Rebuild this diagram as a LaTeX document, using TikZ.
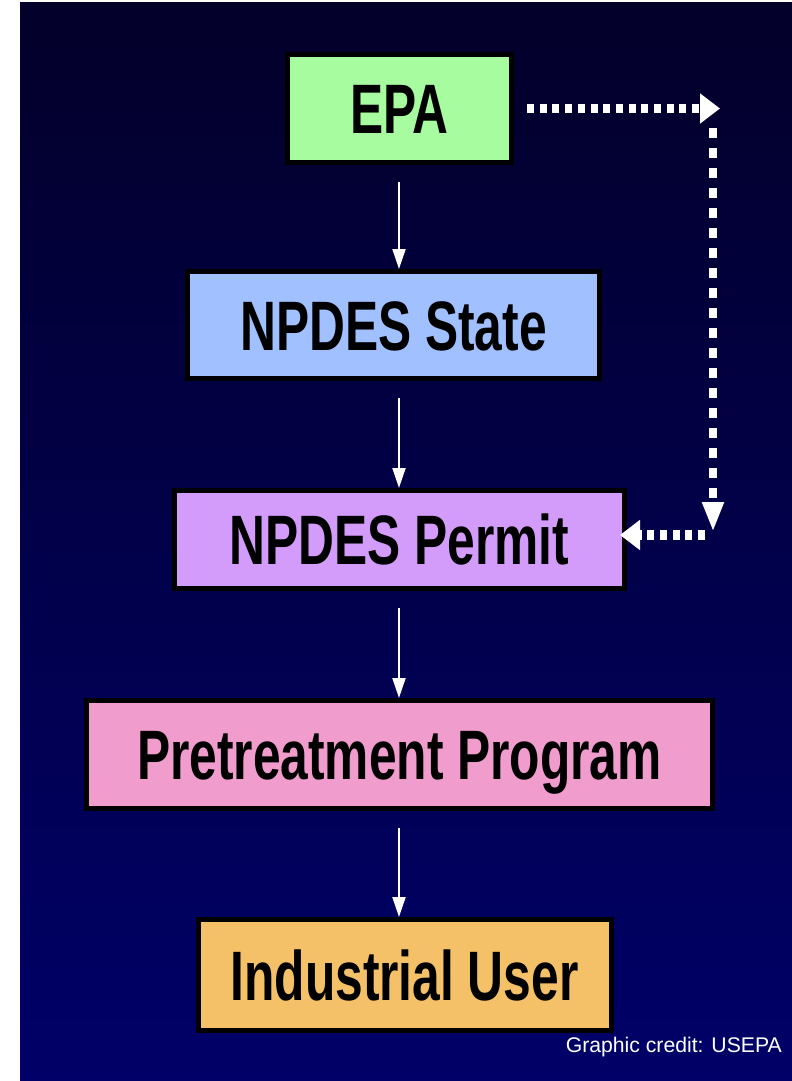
\documentclass[tikz,border=0pt]{standalone}
\usepackage{fontspec}
\setmainfont{Liberation Sans}
\newfontfamily\condfont[FakeStretch=0.71]{Liberation Sans}
\usetikzlibrary{arrows.meta,calc}
\definecolor{navytop}{HTML}{03002A}
\definecolor{navymid}{HTML}{00005A}
\definecolor{navybot}{HTML}{000068}
\definecolor{epagreen}{HTML}{A8FCA0}
\definecolor{stateblue}{HTML}{A0C0FF}
\definecolor{permitviolet}{HTML}{D49CFA}
\definecolor{pretreatpink}{HTML}{F09CCC}
\definecolor{userorange}{HTML}{F4C068}
\tikzset{
  box/.style={draw=black, line width=5pt, inner sep=0pt, outer sep=2.5pt,
    text height=50.1pt, text depth=0pt,
    font=\condfont\bfseries\fontsize{70}{70}\selectfont, text=black},
  flow/.style={draw=white, line width=2pt, shorten <=17pt,
    -{Triangle[length=20pt,width=13pt]}},
  dotsh/.style={draw=white, line width=9.5pt, dash pattern=on 7pt off 5.7pt,
    -{Triangle[length=20pt,width=29pt]}},
  dotsv/.style={draw=white, line width=8pt, dash pattern=on 10pt off 10pt,
    -{Triangle[length=30pt,width=20pt]}},
  credit/.style={text=white, inner sep=0pt, font=\fontsize{21.2}{21.2}\selectfont}
}
\begin{document}
\begin{tikzpicture}[x=1pt,y=-1pt]
\useasboundingbox (0,0) rectangle (792,1081);
\fill[white] (0,0) rectangle (792,1081);
\shade[top color=navytop, middle color=navymid, bottom color=navybot] (20,3) rectangle (792,1081);

\node[box, fill=epagreen, minimum width=224pt, minimum height=108pt] (epa) at (399.5,108.5) {EPA};
\node[box, fill=stateblue, minimum width=412pt, minimum height=107pt] (state) at (393.5,325) {NPDES State};
\node[box, fill=permitviolet, minimum width=450pt, minimum height=98pt] (permit) at (399.5,539.5) {NPDES Permit};
\node[box, fill=pretreatpink, minimum width=626pt, minimum height=108pt] (pretreat) at (399.5,754.5) {Pretreatment Program};
\node[box, fill=userorange, minimum width=413pt, minimum height=111pt] (user) at (404.5,975) {Industrial User};

\draw[flow] (epa.south -| 399,0) -- (state.north -| 399,0);
\draw[flow] (state.south -| 399,0) -- (permit.north -| 399,0);
\draw[flow] (permit.south -| 399,0) -- (pretreat.north -| 399,0);
\draw[flow] (pretreat.south -| 399,0) -- (user.north -| 399,0);

\coordinate (c1) at (720,108.5);
\coordinate (c2) at (713,128);
\coordinate (c3) at (713,532);
\coordinate (c4) at (705,535);
\draw[dotsh] ($(epa.east)+(13,0)$) -- (c1);
\draw[dotsv] (c2) -- (c3);
\draw[dotsh, shorten >=-7pt] (c4) -- (permit.east |- c4);

\node[credit, anchor=base east] (cred) at (782,1052) {Graphic credit: USEPA};
\end{tikzpicture}
\end{document}
